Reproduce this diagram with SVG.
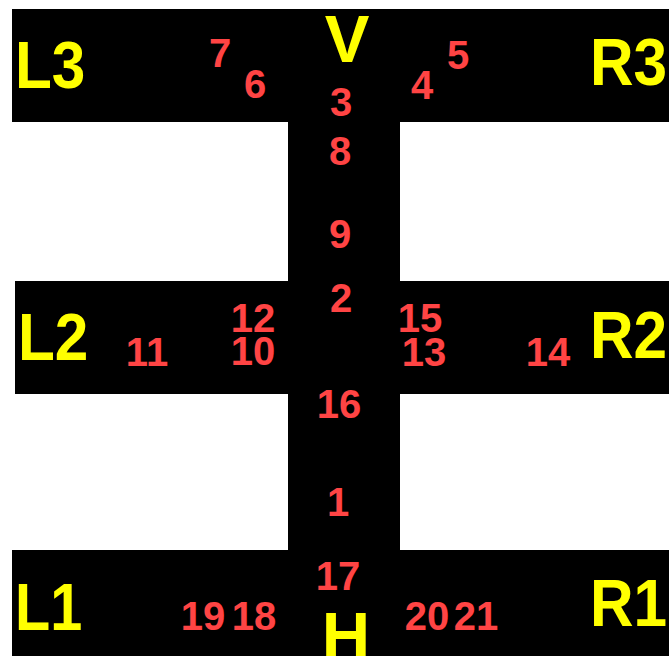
<svg xmlns="http://www.w3.org/2000/svg" width="669" height="656" viewBox="0 0 669 656">
<style>
.bar{fill:#000}
.big{font-family:"Liberation Sans",Arial,sans-serif;font-weight:bold;font-size:67px;fill:#ffff00}
.num{font-family:"Liberation Sans",Arial,sans-serif;font-weight:bold;font-size:40px;fill:#ff4444;text-anchor:middle}
</style>
<rect width="669" height="656" fill="#fff"/>
<g id="shape">
<rect class="bar" x="12" y="9" width="657" height="113"/>
<rect class="bar" x="288" y="122" width="112" height="160"/>
<rect class="bar" x="15" y="281" width="654" height="113"/>
<rect class="bar" x="288" y="394" width="112" height="156"/>
<rect class="bar" x="12" y="550" width="657" height="106"/>
</g>
<g id="labels">
<text class="big" x="15" y="88" transform="translate(15,0) scale(0.9,1) translate(-15,0)">L3</text>
<text class="big" x="347" y="62" text-anchor="middle">V</text>
<text class="big" x="590" y="85" transform="translate(590,0) scale(0.9,1) translate(-590,0)">R3</text>
<text class="big" x="18" y="360" transform="translate(18,0) scale(0.9,1) translate(-18,0)">L2</text>
<text class="big" x="590" y="358" transform="translate(590,0) scale(0.9,1) translate(-590,0)">R2</text>
<text class="big" x="15" y="630" transform="translate(15,0) scale(0.86,1) translate(-15,0)">L1</text>
<text class="big" x="590" y="626" transform="translate(590,0) scale(0.9,1) translate(-590,0)">R1</text>
<text class="big" x="346" y="659" text-anchor="middle">H</text>
</g>
<g id="numbers">
<text class="num" x="220" y="67">7</text>
<text class="num" x="255" y="98">6</text>
<text class="num" x="341" y="116">3</text>
<text class="num" x="422" y="99">4</text>
<text class="num" x="458" y="69">5</text>
<text class="num" x="340" y="165">8</text>
<text class="num" x="340" y="248">9</text>
<text class="num" x="341" y="312">2</text>
<text class="num" x="253" y="332">12</text>
<text class="num" x="253" y="365">10</text>
<text class="num" x="420" y="332">15</text>
<text class="num" x="424" y="366">13</text>
<text class="num" x="147" y="366">11</text>
<text class="num" x="548" y="366">14</text>
<text class="num" x="339" y="418">16</text>
<text class="num" x="338" y="516">1</text>
<text class="num" x="338" y="590">17</text>
<text class="num" x="203" y="630">19</text>
<text class="num" x="254" y="630">18</text>
<text class="num" x="427" y="630">20</text>
<text class="num" x="476" y="630">21</text>
</g>
</svg>
